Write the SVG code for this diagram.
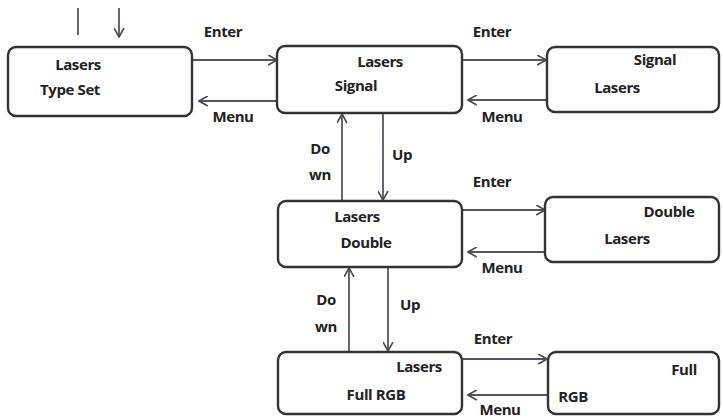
<svg xmlns="http://www.w3.org/2000/svg" width="723" height="419" viewBox="0 0 723 419">
<defs>
<marker id="ah" viewBox="0 0 10 10" refX="9" refY="5" markerWidth="11" markerHeight="11" markerUnits="userSpaceOnUse" orient="auto">
<path d="M1,0.5 L9,5 L1,9.5" fill="none" stroke="#4a4a55" stroke-width="1.5"/>
</marker>
</defs>
<style>
.box{fill:#fff;stroke:#333;stroke-width:2.4}
.t{font-family:"Open Sans","Liberation Sans",sans-serif;font-weight:bold;font-size:15px;fill:#222;text-anchor:middle;letter-spacing:-0.4px}
.c{stroke:#555560;stroke-width:1.8;fill:none}
.a{marker-end:url(#ah)}
</style>
<rect width="723" height="419" fill="#fff"/>
<g id="connectors">
<line class="c" x1="78" y1="8" x2="78" y2="35"/>
<line class="c a" x1="119" y1="8" x2="119" y2="37"/>
<line class="c a" x1="193" y1="60" x2="277" y2="60"/>
<line class="c a" x1="277" y1="101" x2="199" y2="101"/>
<line class="c a" x1="462" y1="60" x2="546" y2="60"/>
<line class="c a" x1="546" y1="100" x2="468" y2="100"/>
<line class="c a" x1="342" y1="201" x2="342" y2="114"/>
<line class="c a" x1="383" y1="113" x2="383" y2="200"/>
<line class="c a" x1="462" y1="210" x2="545" y2="210"/>
<line class="c a" x1="545" y1="252" x2="468" y2="252"/>
<line class="c a" x1="349" y1="352" x2="349" y2="268"/>
<line class="c a" x1="388" y1="267" x2="388" y2="351"/>
<line class="c a" x1="462" y1="359" x2="547" y2="359"/>
<line class="c a" x1="547" y1="395" x2="468" y2="395"/>
<text class="t" x="223" y="37">Enter</text>
<text class="t" x="233" y="122">Menu</text>
<text class="t" x="492" y="37">Enter</text>
<text class="t" x="502" y="122">Menu</text>
<text class="t" x="320" y="154">Do</text>
<text class="t" x="320" y="180">wn</text>
<text class="t" x="402" y="160">Up</text>
<text class="t" x="492" y="187">Enter</text>
<text class="t" x="502" y="273">Menu</text>
<text class="t" x="326" y="305">Do</text>
<text class="t" x="326" y="332">wn</text>
<text class="t" x="410" y="310">Up</text>
<text class="t" x="493" y="344">Enter</text>
<text class="t" x="500" y="415">Menu</text>
</g>
<g id="node-typeset">
<rect class="box" x="8" y="47" width="184" height="69" rx="8"/>
<text class="t" x="78" y="70">Lasers</text>
<text class="t" x="70" y="95">Type Set</text>
</g>
<g id="node-signal">
<rect class="box" x="277" y="46" width="185" height="67" rx="8"/>
<text class="t" x="380" y="67">Lasers</text>
<text class="t" x="356" y="91">Signal</text>
</g>
<g id="node-signal-lasers">
<rect class="box" x="547" y="47" width="172" height="65" rx="8"/>
<text class="t" x="655" y="65">Signal</text>
<text class="t" x="617" y="93">Lasers</text>
</g>
<g id="node-double">
<rect class="box" x="278" y="201" width="184" height="66" rx="8"/>
<text class="t" x="357" y="222">Lasers</text>
<text class="t" x="366" y="248">Double</text>
</g>
<g id="node-double-lasers">
<rect class="box" x="545" y="197" width="174" height="65" rx="8"/>
<text class="t" x="669" y="217">Double</text>
<text class="t" x="627" y="244">Lasers</text>
</g>
<g id="node-fullrgb">
<rect class="box" x="278" y="352" width="184" height="62" rx="8"/>
<text class="t" x="419" y="372">Lasers</text>
<text class="t" x="376" y="400">Full RGB</text>
</g>
<g id="node-full-rgb">
<rect class="box" x="548" y="352" width="171" height="62" rx="8"/>
<text class="t" x="684" y="375">Full</text>
<text class="t" x="573" y="402">RGB</text>
</g>
</svg>
